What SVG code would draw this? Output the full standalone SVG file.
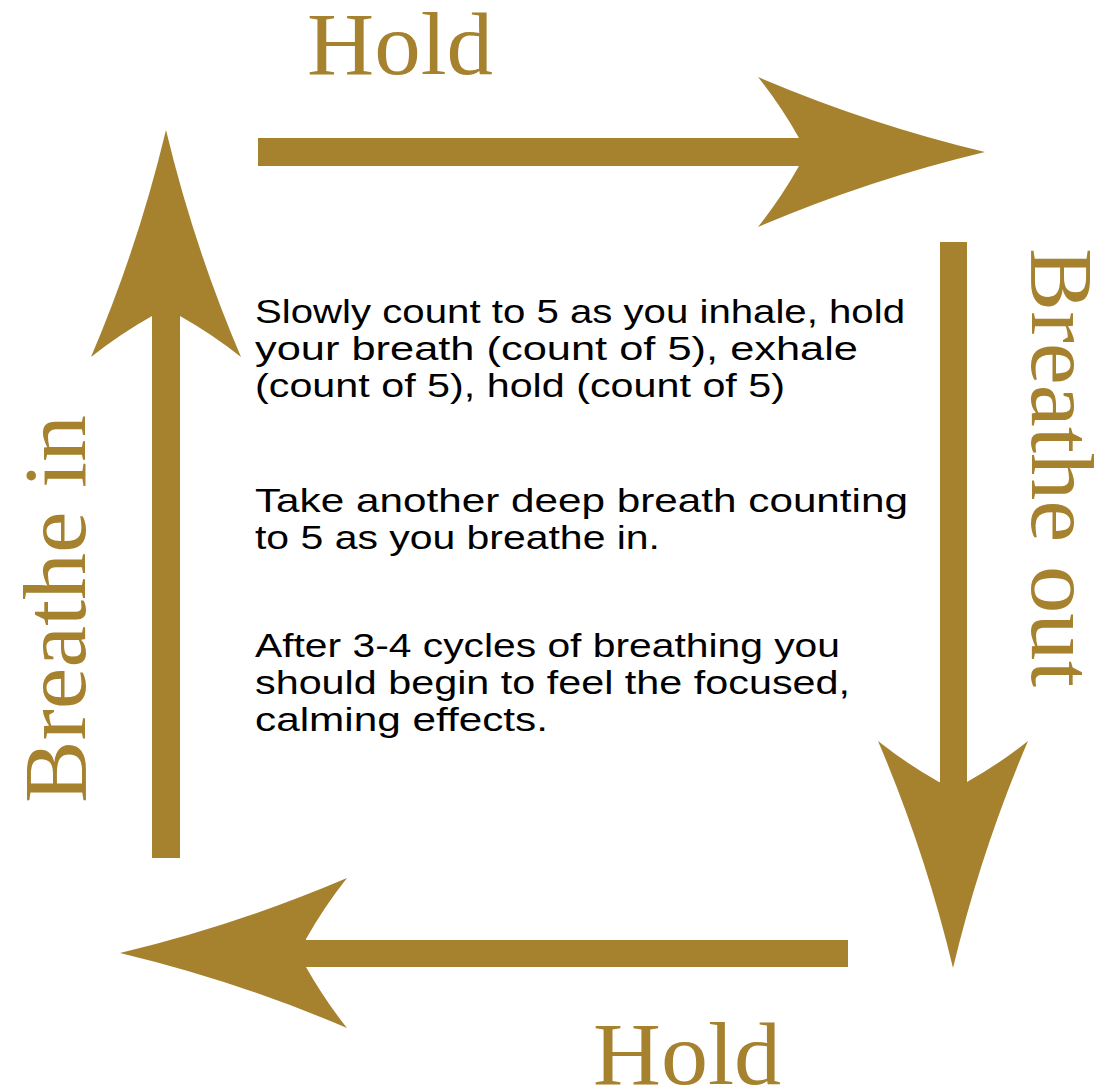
<svg xmlns="http://www.w3.org/2000/svg" xmlns:xlink="http://www.w3.org/1999/xlink" width="1116" height="1092" viewBox="0 0 1116 1092">
<style>
.gold{fill:#A6822F}
.label{font-family:"Liberation Serif","Times New Roman",serif;font-size:88px;fill:#A6822F}
.body{font-family:"Liberation Sans",Arial,sans-serif;font-size:34px;fill:#000}
</style>
<defs>
<path id="head" d="M0,0 Q-117,-28 -227,-75 Q-204,-46 -186,-14 L-186,14 Q-204,46 -227,75 Q-117,28 0,0 Z"/>
</defs>
<rect width="1116" height="1092" fill="#fff"/>
<g id="connectors" class="gold">
<g id="arrow-top">
<rect x="258" y="138" width="545" height="28"/>
<use xlink:href="#head" href="#head" transform="translate(985,152)"/>
</g>
<g id="arrow-right">
<rect x="940" y="242" width="27" height="545"/>
<use xlink:href="#head" href="#head" transform="translate(953,968) rotate(90)"/>
</g>
<g id="arrow-bottom">
<rect x="305" y="940" width="543" height="27"/>
<use xlink:href="#head" href="#head" transform="translate(120,953) rotate(180)"/>
</g>
<g id="arrow-left">
<rect x="152" y="315" width="28" height="543"/>
<use xlink:href="#head" href="#head" transform="translate(166,130) rotate(-90)"/>
</g>
</g>
<g id="label-hold-top"><text class="label" x="307" y="74" textLength="186" lengthAdjust="spacingAndGlyphs">Hold</text></g>
<g id="label-breathe-out"><text class="label" transform="translate(1032,248) rotate(90)" x="0" y="0" textLength="439" lengthAdjust="spacingAndGlyphs">Breathe out</text></g>
<g id="label-hold-bottom"><text class="label" x="593" y="1084" textLength="188" lengthAdjust="spacingAndGlyphs">Hold</text></g>
<g id="label-breathe-in"><text class="label" transform="translate(85,803) rotate(-90)" x="0" y="0" textLength="388" lengthAdjust="spacingAndGlyphs">Breathe in</text></g>
<g id="instructions" class="body">
<text class="body" x="255" y="323" textLength="650" lengthAdjust="spacingAndGlyphs">Slowly count to 5 as you inhale, hold</text>
<text class="body" x="255" y="360" textLength="603" lengthAdjust="spacingAndGlyphs">your breath (count of 5), exhale</text>
<text class="body" x="255" y="397" textLength="530" lengthAdjust="spacingAndGlyphs">(count of 5), hold (count of 5)</text>
<text class="body" x="255" y="512" textLength="653" lengthAdjust="spacingAndGlyphs">Take another deep breath counting</text>
<text class="body" x="255" y="549" textLength="405" lengthAdjust="spacingAndGlyphs">to 5 as you breathe in.</text>
<text class="body" x="255" y="657" textLength="585" lengthAdjust="spacingAndGlyphs">After 3-4 cycles of breathing you</text>
<text class="body" x="255" y="694" textLength="595" lengthAdjust="spacingAndGlyphs">should begin to feel the focused,</text>
<text class="body" x="255" y="731" textLength="293" lengthAdjust="spacingAndGlyphs">calming effects.</text>
</g>
</svg>
